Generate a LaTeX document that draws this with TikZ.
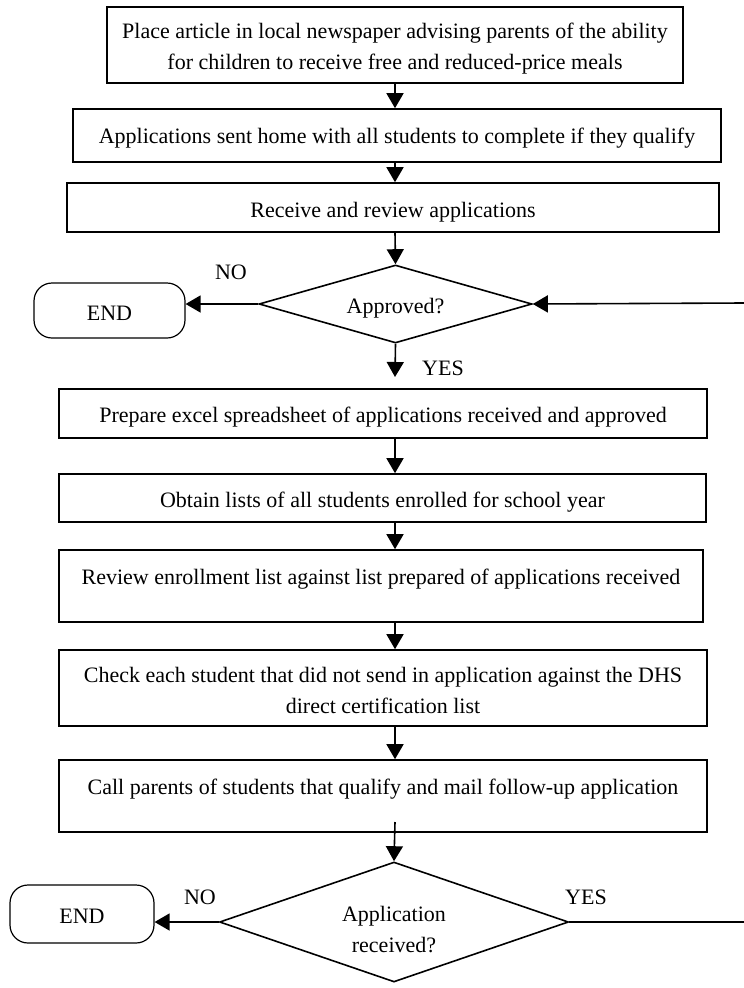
\documentclass[tikz,border=0pt]{standalone}
\usepackage{fontspec}
\setmainfont{Liberation Serif}
\usetikzlibrary{shapes.geometric,arrows.meta}
\newcommand{\tx}[2][-3pt]{\raisebox{#1}[\height][\depth]{\begin{tabular}{@{}c@{}}#2\end{tabular}}}
\begin{document}
\begin{tikzpicture}[x=1pt,y=-1pt,
  every node/.style={font=\fontsize{22}{31}\selectfont},
  procbox/.style={draw,line width=1.6pt,rectangle,inner sep=0pt},
  decbox/.style={draw,line width=1.6pt,diamond,inner sep=0pt},
  endbox/.style={draw,line width=1.2pt,rectangle,rounded corners=18pt,inner sep=0pt},
  lbl/.style={inner sep=0pt},
  conn/.style={line width=1.6pt,-{Triangle[length=15pt,width=17pt]}},
  plainconn/.style={line width=1.6pt}]
\useasboundingbox (0,0) rectangle (744,988);
\coordinate (axis) at (395,0);
\node[procbox,minimum width=576pt,minimum height=76pt] (b1) at (395,45)
  {\tx[-3pt]{Place article in local newspaper advising parents of the ability\\for children to receive free and reduced-price meals}};
\node[procbox,minimum width=648pt,minimum height=53pt] (b2) at (397,135.5)
  {\tx[-2pt]{Applications sent home with all students to complete if they qualify}};
\node[procbox,minimum width=652pt,minimum height=49pt] (b3) at (393,207.5)
  {\tx[-4pt]{Receive and review applications}};
\node[decbox,aspect=3.5,minimum width=273pt,minimum height=78pt] (d1) at (395.5,304)
  {\tx[-3pt]{Approved?}};
\node[endbox,minimum width=151pt,minimum height=55pt] (e1) at (109.5,310.5)
  {\tx[-4pt]{END}};
\node[procbox,minimum width=648pt,minimum height=49pt] (p1) at (383,413.5)
  {\tx[-3pt]{Prepare excel spreadsheet of applications received and approved}};
\node[procbox,minimum width=647pt,minimum height=48pt] (p2) at (382.5,498)
  {\tx[-3pt]{Obtain lists of all students enrolled for school year}};
\node[procbox,minimum width=644pt,minimum height=72pt] (p3) at (381,586)
  {\tx[8pt]{Review enrollment list against list prepared of applications received}};
\node[procbox,minimum width=648pt,minimum height=76pt] (p4) at (383,688)
  {\tx[-4pt]{Check each student that did not send in application against the DHS\\direct certification list}};
\node[procbox,minimum width=648pt,minimum height=72pt] (p5) at (383,796)
  {\tx[8pt]{Call parents of students that qualify and mail follow-up application}};
\node[decbox,aspect=2.9,minimum width=349pt,minimum height=120pt] (d2) at (394,922)
  {\tx[-9pt]{Application\\received?}};
\node[endbox,minimum width=144pt,minimum height=58pt] (e2) at (82,914)
  {\tx[-3pt]{END}};
% labels
\node[lbl] (no1) at (231,272) {NO};
\node[lbl] (yes1) at (443,368) {YES};
\node[lbl] (no2) at (200,897) {NO};
\node[lbl] (yes2) at (586,897) {YES};
% free ends
\coordinate (r1) at (744,303);
\coordinate (y1) at (395,377);
\coordinate (c0) at (395,822);
\coordinate (r2) at (744,922);
% connectors
\draw[conn] (b1.south -| axis) -- (b2.north -| axis);
\draw[conn] (b2.south -| axis) -- (b3.north -| axis);
\draw[conn] (b3.south -| axis) -- (d1.north);
\draw[conn] (d1.west) -- (d1.west -| e1.east);
\draw[conn] (r1) -- (d1.east);
\draw[conn] (d1.south) -- (y1);
\draw[conn] (p1.south -| axis) -- (p2.north -| axis);
\draw[conn] (p2.south -| axis) -- (p3.north -| axis);
\draw[conn] (p3.south -| axis) -- (p4.north -| axis);
\draw[conn] (p4.south -| axis) -- (p5.north -| axis);
\draw[conn] (c0) -- (d2.north);
\draw[conn] (d2.west) -- (d2.west -| e2.east);
\draw[plainconn] (d2.east) -- (r2);
\end{tikzpicture}
\end{document}
